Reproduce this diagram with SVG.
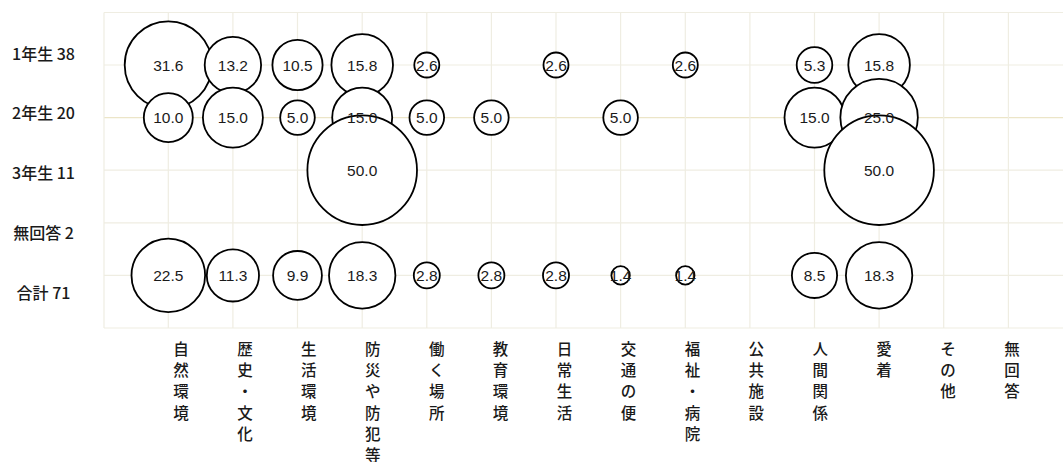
<svg xmlns="http://www.w3.org/2000/svg" width="1063" height="462" viewBox="0 0 1063 462">
<style>
.grid line{stroke:#efede2;stroke-width:1.2}
.grid .hy{stroke:#ece5c8}
.b circle{fill:#fff;stroke:#000;stroke-width:1.8}
.v text{font-family:"Liberation Sans",Arial,sans-serif;font-size:15.5px;fill:#1a1a1a;text-anchor:middle}
.rl text{font-family:"Noto Sans CJK JP","Liberation Sans",sans-serif;font-size:16px;font-weight:500;fill:#1a1a1a;text-anchor:middle}
.cl text{font-family:"Noto Sans CJK JP",sans-serif;font-size:15.5px;font-weight:500;fill:#1a1a1a;text-anchor:middle}
</style>
<rect width="1063" height="462" fill="#fff"/>
<g id="grid" class="grid">
<line x1="104" y1="12.5" x2="1063" y2="12.5"/>
<line x1="104" y1="65" x2="1063" y2="65"/>
<line class="hy" x1="104" y1="117.6" x2="1063" y2="117.6"/>
<line x1="104" y1="170.2" x2="1063" y2="170.2"/>
<line x1="104" y1="222.8" x2="1063" y2="222.8"/>
<line x1="104" y1="275.4" x2="1063" y2="275.4"/>
<line x1="104" y1="328" x2="1063" y2="328"/>
<line x1="104" y1="12.5" x2="104" y2="328"/>
<line x1="168.3" y1="12.5" x2="168.3" y2="328"/>
<line x1="232.9" y1="12.5" x2="232.9" y2="328"/>
<line x1="297.5" y1="12.5" x2="297.5" y2="328"/>
<line x1="362.2" y1="12.5" x2="362.2" y2="328"/>
<line x1="426.8" y1="12.5" x2="426.8" y2="328"/>
<line x1="491.4" y1="12.5" x2="491.4" y2="328"/>
<line x1="556" y1="12.5" x2="556" y2="328"/>
<line x1="620.6" y1="12.5" x2="620.6" y2="328"/>
<line x1="685.3" y1="12.5" x2="685.3" y2="328"/>
<line x1="749.9" y1="12.5" x2="749.9" y2="328"/>
<line x1="814.5" y1="12.5" x2="814.5" y2="328"/>
<line x1="879.1" y1="12.5" x2="879.1" y2="328"/>
<line x1="943.7" y1="12.5" x2="943.7" y2="328"/>
<line x1="1008.4" y1="12.5" x2="1008.4" y2="328"/>
</g>
<g id="connectors"/>
<g id="bubbles" class="b">
<g id="r1c0"><circle cx="168.3" cy="65" r="43.6"/></g>
<g id="r1c1"><circle cx="232.9" cy="65" r="28.2"/></g>
<g id="r1c2"><circle cx="297.5" cy="65" r="25.1"/></g>
<g id="r1c3"><circle cx="362.2" cy="65" r="30.8"/></g>
<g id="r1c4"><circle cx="426.8" cy="65" r="12.5"/></g>
<g id="r1c6"><circle cx="556" cy="65" r="12.5"/></g>
<g id="r1c8"><circle cx="685.3" cy="65" r="12.5"/></g>
<g id="r1c10"><circle cx="814.5" cy="65" r="17.8"/></g>
<g id="r1c11"><circle cx="879.1" cy="65" r="30.8"/></g>
<g id="r2c0"><circle cx="168.3" cy="117.6" r="24.5"/></g>
<g id="r2c1"><circle cx="232.9" cy="117.6" r="30"/></g>
<g id="r2c2"><circle cx="297.5" cy="117.6" r="17.3"/></g>
<g id="r2c3"><circle cx="362.2" cy="117.6" r="30"/></g>
<g id="r2c4"><circle cx="426.8" cy="117.6" r="17.3"/></g>
<g id="r2c5"><circle cx="491.4" cy="117.6" r="17.3"/></g>
<g id="r2c7"><circle cx="620.6" cy="117.6" r="17.3"/></g>
<g id="r2c10"><circle cx="814.5" cy="117.6" r="30"/></g>
<g id="r2c11"><circle cx="879.1" cy="117.6" r="38.75"/></g>
<g id="r3c3"><circle cx="362.2" cy="170.2" r="54.8"/></g>
<g id="r3c11"><circle cx="879.1" cy="170.2" r="54.8"/></g>
<g id="r5c0"><circle cx="168.3" cy="275.4" r="36.8"/></g>
<g id="r5c1"><circle cx="232.9" cy="275.4" r="26.1"/></g>
<g id="r5c2"><circle cx="297.5" cy="275.4" r="24.4"/></g>
<g id="r5c3"><circle cx="362.2" cy="275.4" r="33.2"/></g>
<g id="r5c4"><circle cx="426.8" cy="275.4" r="13"/></g>
<g id="r5c5"><circle cx="491.4" cy="275.4" r="13"/></g>
<g id="r5c6"><circle cx="556" cy="275.4" r="13"/></g>
<g id="r5c7"><circle cx="620.6" cy="275.4" r="9.2"/></g>
<g id="r5c8"><circle cx="685.3" cy="275.4" r="9.2"/></g>
<g id="r5c10"><circle cx="814.5" cy="275.4" r="22.6"/></g>
<g id="r5c11"><circle cx="879.1" cy="275.4" r="33.2"/></g>
</g>
<g id="values" class="v">
<text x="168.3" y="70.6">31.6</text>
<text x="232.9" y="70.6">13.2</text>
<text x="297.5" y="70.6">10.5</text>
<text x="362.2" y="70.6">15.8</text>
<text x="426.8" y="70.6">2.6</text>
<text x="556" y="70.6">2.6</text>
<text x="685.3" y="70.6">2.6</text>
<text x="814.5" y="70.6">5.3</text>
<text x="879.1" y="70.6">15.8</text>
<text x="168.3" y="123.2">10.0</text>
<text x="232.9" y="123.2">15.0</text>
<text x="297.5" y="123.2">5.0</text>
<text x="362.2" y="123.2">15.0</text>
<text x="426.8" y="123.2">5.0</text>
<text x="491.4" y="123.2">5.0</text>
<text x="620.6" y="123.2">5.0</text>
<text x="814.5" y="123.2">15.0</text>
<text x="879.1" y="123.2">25.0</text>
<text x="362.2" y="175.8">50.0</text>
<text x="879.1" y="175.8">50.0</text>
<text x="168.3" y="281">22.5</text>
<text x="232.9" y="281">11.3</text>
<text x="297.5" y="281">9.9</text>
<text x="362.2" y="281">18.3</text>
<text x="426.8" y="281">2.8</text>
<text x="491.4" y="281">2.8</text>
<text x="556" y="281">2.8</text>
<text x="620.6" y="281">1.4</text>
<text x="685.3" y="281">1.4</text>
<text x="814.5" y="281">8.5</text>
<text x="879.1" y="281">18.3</text>
</g>
<g id="row-labels" class="rl">
<text x="43.5" y="59.5">1年生 38</text>
<text x="43.5" y="118.5">2年生 20</text>
<text x="43.5" y="178.5">3年生 11</text>
<text x="43.5" y="238.5">無回答 2</text>
<text x="43.5" y="299">合計 71</text>
</g>
<g id="col-labels" class="cl">
<text y="355"><tspan x="181">自</tspan><tspan x="181" dy="21.2">然</tspan><tspan x="181" dy="21.2">環</tspan><tspan x="181" dy="21.2">境</tspan></text>
<text y="355"><tspan x="244.9">歴</tspan><tspan x="244.9" dy="21.2">史</tspan><tspan x="244.9" dy="21.2">・</tspan><tspan x="244.9" dy="21.2">文</tspan><tspan x="244.9" dy="21.2">化</tspan></text>
<text y="355"><tspan x="308.8">生</tspan><tspan x="308.8" dy="21.2">活</tspan><tspan x="308.8" dy="21.2">環</tspan><tspan x="308.8" dy="21.2">境</tspan></text>
<text y="355"><tspan x="372.8">防</tspan><tspan x="372.8" dy="21.2">災</tspan><tspan x="372.8" dy="21.2">や</tspan><tspan x="372.8" dy="21.2">防</tspan><tspan x="372.8" dy="21.2">犯</tspan><tspan x="372.8" dy="21.2">等</tspan></text>
<text y="355"><tspan x="436.7">働</tspan><tspan x="436.7" dy="21.2">く</tspan><tspan x="436.7" dy="21.2">場</tspan><tspan x="436.7" dy="21.2">所</tspan></text>
<text y="355"><tspan x="500.6">教</tspan><tspan x="500.6" dy="21.2">育</tspan><tspan x="500.6" dy="21.2">環</tspan><tspan x="500.6" dy="21.2">境</tspan></text>
<text y="355"><tspan x="564.5">日</tspan><tspan x="564.5" dy="21.2">常</tspan><tspan x="564.5" dy="21.2">生</tspan><tspan x="564.5" dy="21.2">活</tspan></text>
<text y="355"><tspan x="628.4">交</tspan><tspan x="628.4" dy="21.2">通</tspan><tspan x="628.4" dy="21.2">の</tspan><tspan x="628.4" dy="21.2">便</tspan></text>
<text y="355"><tspan x="692.4">福</tspan><tspan x="692.4" dy="21.2">祉</tspan><tspan x="692.4" dy="21.2">・</tspan><tspan x="692.4" dy="21.2">病</tspan><tspan x="692.4" dy="21.2">院</tspan></text>
<text y="355"><tspan x="756.3">公</tspan><tspan x="756.3" dy="21.2">共</tspan><tspan x="756.3" dy="21.2">施</tspan><tspan x="756.3" dy="21.2">設</tspan></text>
<text y="355"><tspan x="820.2">人</tspan><tspan x="820.2" dy="21.2">間</tspan><tspan x="820.2" dy="21.2">関</tspan><tspan x="820.2" dy="21.2">係</tspan></text>
<text y="355"><tspan x="884.1">愛</tspan><tspan x="884.1" dy="21.2">着</tspan></text>
<text y="355"><tspan x="948">そ</tspan><tspan x="948" dy="21.2">の</tspan><tspan x="948" dy="21.2">他</tspan></text>
<text y="355"><tspan x="1012">無</tspan><tspan x="1012" dy="21.2">回</tspan><tspan x="1012" dy="21.2">答</tspan></text>
</g>
</svg>
